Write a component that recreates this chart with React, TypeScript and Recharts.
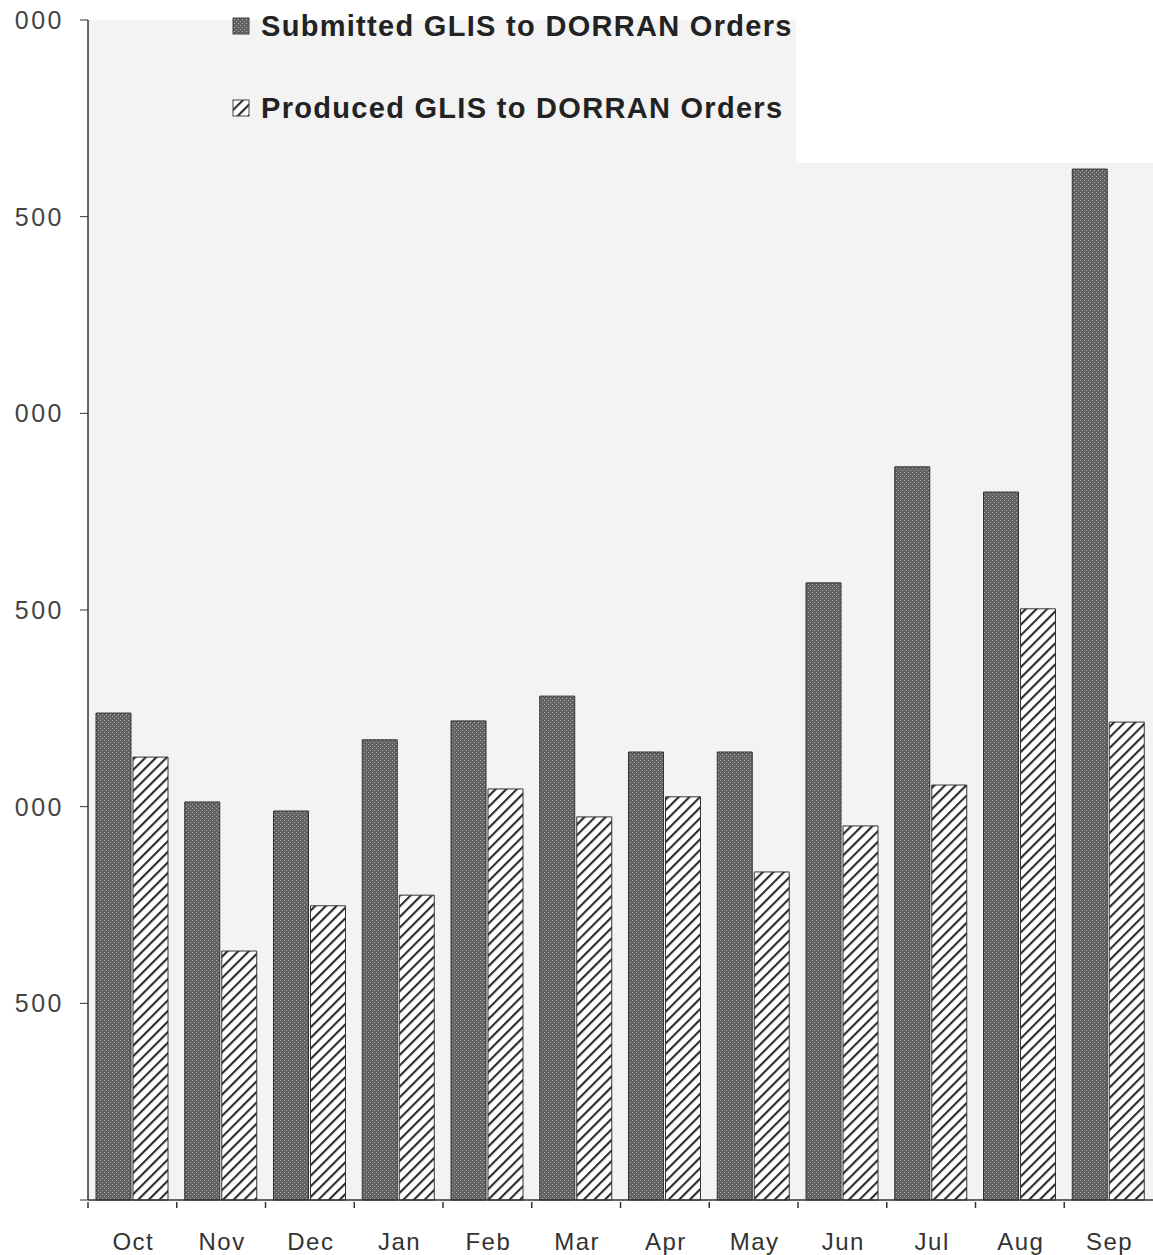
import { BarChart, Bar, XAxis, YAxis, CartesianGrid, Legend } from "recharts";

const months = ["Oct", "Nov", "Dec", "Jan", "Feb", "Mar", "Apr", "May", "Jun", "Jul", "Aug", "Sep"];
const submitted = [1238, 1012, 989, 1170, 1218, 1281, 1139, 1139, 1569, 1864, 1800, 2621];
const produced = [1126, 633, 748, 775, 1045, 974, 1025, 834, 951, 1055, 1503, 1215];
const yTicks = [0, 500, 1000, 1500, 2000, 2500, 3000];

const seriesNames = {
  submitted: "Submitted GLIS to DORRAN Orders",
  produced: "Produced GLIS to DORRAN Orders",
};

const data = months.map((m, i) => ({ month: m, submitted: submitted[i], produced: produced[i] }));

const FONT = "'Liberation Sans', Arial, sans-serif";

// scan cut off the thousands digit, only last three digits show
const yLabel = (v: number) => (v === 0 ? "" : String(v).slice(-3));

function MonthTick(props: any) {
  const { x, y, payload } = props;
  const off = payload && payload.offset ? payload.offset : 44.4;
  return (
    <g>
      <line x1={x - off} x2={x - off} y1={y} y2={y + 6} stroke="#333" strokeWidth={1.5} />
      <text x={x + 1} y={y + 48} textAnchor="middle" fontSize={24} letterSpacing={1.5} fill="#333" fontFamily={FONT}>
        {payload.value}
      </text>
    </g>
  );
}

function LegendBox() {
  const items = [
    { key: "submitted", fill: "url(#dots)" },
    { key: "produced", fill: "url(#hatch)" },
  ];
  return (
    <div style={{ fontFamily: FONT }}>
      {items.map((it, i) => (
        <div key={it.key} style={{ display: "flex", alignItems: "center", height: 40, marginBottom: i === 0 ? 42 : 0 }}>
          <svg width={18} height={18} style={{ marginRight: 11 }}>
            <rect x={1} y={1} width={16} height={16} fill={it.fill} stroke="#444" strokeWidth={1} />
          </svg>
          <span style={{ fontSize: 29, fontWeight: "bold", letterSpacing: 1.3, color: "#222", whiteSpace: "nowrap" }}>
            {(seriesNames as any)[it.key]}
          </span>
        </div>
      ))}
    </div>
  );
}

export default function App() {
  return (
    <div style={{ position: "absolute", left: 0, top: 0, width: 1153, height: 1255, background: "#fff" }}>
      <BarChart
        width={1153}
        height={1255}
        data={data}
        margin={{ top: 20, right: 0, bottom: 0, left: 0 }}
        barCategoryGap={8}
        barGap={2}
      >
        <defs>
          <pattern id="dots" patternUnits="userSpaceOnUse" width={4} height={4}>
            <rect width={4} height={4} fill="#626262" />
            <rect x={0} y={0} width={1} height={1} fill="#ababab" />
            <rect x={2} y={2} width={1} height={1} fill="#ababab" />
          </pattern>
          <pattern id="hatch" patternUnits="userSpaceOnUse" width={7.5} height={7.5} patternTransform="rotate(45)">
            <rect width={7.5} height={7.5} fill="#fff" />
            <line x1={1} y1={0} x2={1} y2={7.5} stroke="#2a2a2a" strokeWidth={2.2} />
          </pattern>
        </defs>
        <CartesianGrid horizontal={false} vertical={false} fill="#f3f3f3" />
        <XAxis
          dataKey="month"
          height={55}
          tickSize={0}
          tickLine={false}
          tick={<MonthTick />}
          interval={0}
          axisLine={{ stroke: "#333", strokeWidth: 1.5 }}
        />
        <YAxis
          width={88}
          domain={[0, 3000]}
          ticks={yTicks}
          tickFormatter={yLabel}
          tickSize={8}
          tickMargin={16}
          tickLine={{ stroke: "#333" }}
          axisLine={{ stroke: "#333", strokeWidth: 1.5 }}
          tick={{ fontSize: 25, fill: "#444", fontFamily: FONT, letterSpacing: 2.5 }}
        />
        <Legend
          layout="vertical"
          align="center"
          verticalAlign="middle"
          content={() => <LegendBox />}
          wrapperStyle={{ position: "absolute", left: 232, top: 6, width: "auto" }}
        />
        <Bar dataKey="submitted" name={seriesNames.submitted} fill="url(#dots)" stroke="#333" strokeWidth={1} isAnimationActive={false} />
        <Bar dataKey="produced" name={seriesNames.produced} fill="url(#hatch)" stroke="#333" strokeWidth={1} isAnimationActive={false} />
      </BarChart>
      <div style={{ position: "absolute", left: 796, top: 0, width: 357, height: 163, background: "#fff" }} />
    </div>
  );
}
